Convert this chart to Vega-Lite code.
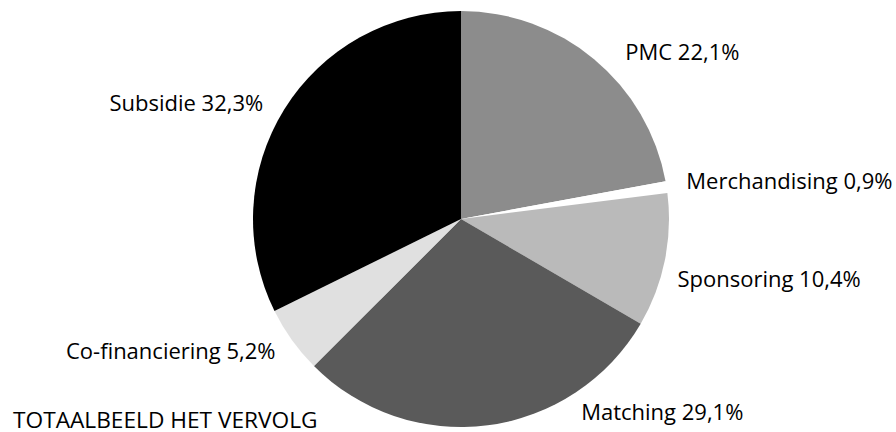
{
  "$schema": "https://vega.github.io/schema/vega-lite/v6.json",
  "width": 870,
  "height": 426,
  "autosize": {"type": "none"},
  "padding": {"left": 26, "top": 6, "right": 0, "bottom": 0},
  "background": "#ffffff",
  "title": {
    "text": "TOTAALBEELD HET VERVOLG",
    "orient": "bottom",
    "anchor": "start",
    "frame": "group",
    "baseline": "alphabetic",
    "offset": -4,
    "dx": -13,
    "font": "Open Sans",
    "fontSize": 22.7,
    "fontWeight": "normal",
    "color": "#000000"
  },
  "data": {
    "values": [
      {"volgorde": 1, "kategorie": "PMC", "aandeel": 22.1},
      {"volgorde": 2, "kategorie": "Merchandising", "aandeel": 0.9},
      {"volgorde": 3, "kategorie": "Sponsoring", "aandeel": 10.4},
      {"volgorde": 4, "kategorie": "Matching", "aandeel": 29.1},
      {"volgorde": 5, "kategorie": "Co-financiering", "aandeel": 5.2},
      {"volgorde": 6, "kategorie": "Subsidie", "aandeel": 32.3}
    ]
  },
  "transform": [
    {"stack": "aandeel", "groupby": [], "sort": [{"field": "volgorde", "order": "ascending"}], "as": ["begin", "eind"]},
    {"calculate": "(datum.begin + datum.eind) / 2", "as": "midden"},
    {"calculate": "datum.kategorie + ' ' + replace(format(datum.aandeel, '.1f'), '.', ',') + '%'", "as": "label"}
  ],
  "layer": [
    {
      "mark": {"type": "arc", "outerRadius": 208, "stroke": null},
      "encoding": {
        "theta": {"field": "begin", "type": "quantitative", "stack": null, "scale": {"domain": [0, 100]}},
        "theta2": {"field": "eind"},
        "color": {
          "field": "kategorie",
          "type": "nominal",
          "scale": {
            "domain": ["PMC", "Merchandising", "Sponsoring", "Matching", "Co-financiering", "Subsidie"],
            "range": ["#8c8c8c", "#ffffff", "#bababa", "#5a5a5a", "#e0e0e0", "#000000"]
          },
          "legend": null
        }
      }
    },
    {
      "transform": [{"filter": "datum.kategorie === 'PMC'"}],
      "mark": {"type": "text", "radius": 227, "align": "left", "baseline": "middle", "dx": 19, "dy": 8},
      "encoding": {
        "theta": {"field": "midden", "type": "quantitative", "stack": null},
        "text": {"field": "label"}
      }
    },
    {
      "transform": [{"filter": "datum.kategorie === 'Merchandising'"}],
      "mark": {"type": "text", "radius": 227, "align": "left", "baseline": "middle", "dx": 1, "dy": -2},
      "encoding": {
        "theta": {"field": "midden", "type": "quantitative", "stack": null},
        "text": {"field": "label"}
      }
    },
    {
      "transform": [{"filter": "datum.kategorie === 'Sponsoring'"}],
      "mark": {"type": "text", "radius": 227, "align": "left", "baseline": "middle", "dx": -6, "dy": 16},
      "encoding": {
        "theta": {"field": "midden", "type": "quantitative", "stack": null},
        "text": {"field": "label"}
      }
    },
    {
      "transform": [{"filter": "datum.kategorie === 'Matching'"}],
      "mark": {"type": "text", "radius": 227, "align": "left", "baseline": "middle", "dx": 91, "dy": -31},
      "encoding": {
        "theta": {"field": "midden", "type": "quantitative", "stack": null},
        "text": {"field": "label"}
      }
    },
    {
      "transform": [{"filter": "datum.kategorie === 'Co-financiering'"}],
      "mark": {"type": "text", "radius": 227, "align": "right", "baseline": "middle", "dx": -1, "dy": 1},
      "encoding": {
        "theta": {"field": "midden", "type": "quantitative", "stack": null},
        "text": {"field": "label"}
      }
    },
    {
      "transform": [{"filter": "datum.kategorie === 'Subsidie'"}],
      "mark": {"type": "text", "radius": 227, "align": "right", "baseline": "middle", "dx": -5, "dy": 5},
      "encoding": {
        "theta": {"field": "midden", "type": "quantitative", "stack": null},
        "text": {"field": "label"}
      }
    }
  ],
  "config": {
    "view": {"stroke": null},
    "text": {"font": "Open Sans", "fontSize": 22, "color": "#000000"}
  }
}
